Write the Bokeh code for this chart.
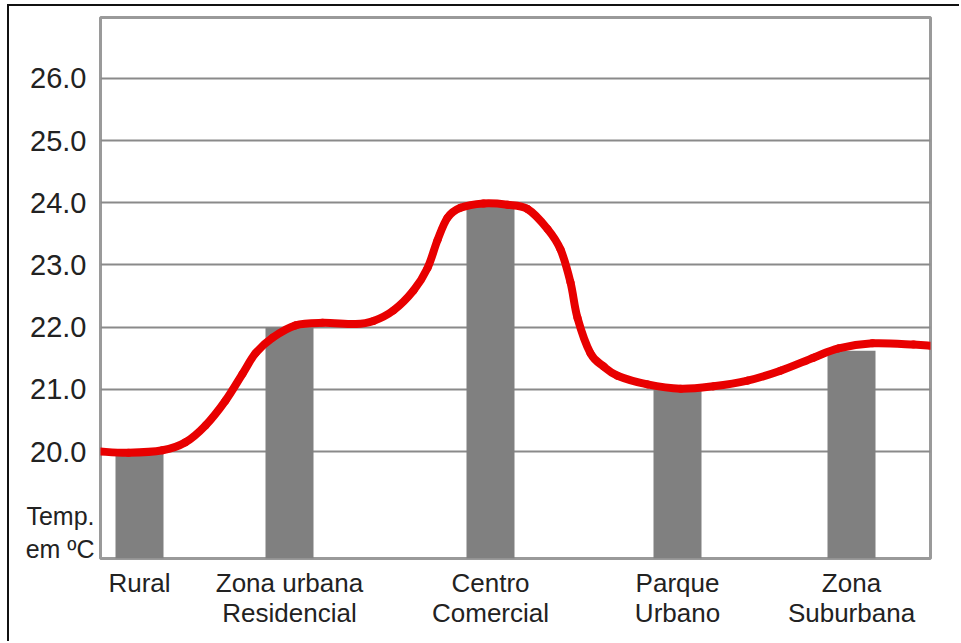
from bokeh.plotting import figure
from bokeh.models import Range1d, FixedTicker, LinearAxis
from bokeh.embed import file_html
from bokeh.resources import INLINE

# Zones along the transect and their position across the chart (px-like units)
zones = ["Rural", "Zona urbana\nResidencial", "Centro\nComercial", "Parque\nUrbano", "Zona\nSuburbana"]
zone_pos = [39, 189, 390, 577, 751]
zone_temp = [20.0, 22.0, 24.0, 21.0, 21.62]

# Temperature profile traced across the zones
profile_x = [0, 28, 62, 85, 105, 125, 142, 155, 172, 195, 222, 255, 273, 293, 313,
             327, 337, 347, 360, 383, 407, 427, 447, 460, 470, 477, 490, 503, 517,
             547, 580, 613, 647, 680, 713, 738, 772, 813, 830]
profile_t = [20.00, 19.98, 20.02, 20.15, 20.42, 20.82, 21.25, 21.58, 21.83, 22.03, 22.07,
             22.05, 22.10, 22.27, 22.59, 22.95, 23.40, 23.76, 23.92, 23.99, 23.97, 23.90,
             23.58, 23.25, 22.72, 22.15, 21.58, 21.37, 21.22, 21.08, 21.01, 21.05, 21.14,
             21.30, 21.51, 21.66, 21.74, 21.72, 21.70]

y_ticks = [20, 21, 22, 23, 24, 25, 26]
y_lo, y_hi = 18.28, 26.98
unit_caption = "Temp.\nem ºC"
caption_at = 18.70


def smooth_path(xs, ys):
    """Cubic Bezier segments (Catmull-Rom tangents) through the traced points."""
    n = len(xs)
    seg = {"x0": [], "y0": [], "x1": [], "y1": [], "cx0": [], "cy0": [], "cx1": [], "cy1": []}
    for i in range(n - 1):
        xa, ya = xs[max(i - 1, 0)], ys[max(i - 1, 0)]
        xb, yb = xs[i], ys[i]
        xc, yc = xs[i + 1], ys[i + 1]
        xd, yd = xs[min(i + 2, n - 1)], ys[min(i + 2, n - 1)]
        seg["x0"].append(xb); seg["y0"].append(yb)
        seg["x1"].append(xc); seg["y1"].append(yc)
        seg["cx0"].append(xb + (xc - xa) / 6); seg["cy0"].append(yb + (yc - ya) / 6)
        seg["cx1"].append(xc - (xd - xb) / 6); seg["cy1"].append(yc - (yd - yb) / 6)
    return seg


p = figure(width=952, height=637, x_range=Range1d(0, 830), y_range=Range1d(y_lo, y_hi),
           output_backend="svg", toolbar_location=None,
           min_border_left=91, min_border_right=31, min_border_top=11, min_border_bottom=85)
p.styles = {"border-top": "2px solid #111", "border-left": "2px solid #111",
            "margin-left": "7px", "margin-top": "4px"}

p.background_fill_color = "white"
p.border_fill_color = "white"
p.outline_line_color = "#9a9a9a"
p.outline_line_width = 3

# grid
p.xgrid.grid_line_color = None
p.ygrid.grid_line_color = "#8a8a8a"
p.ygrid.grid_line_width = 2

# y axis
p.yaxis.ticker = FixedTicker(ticks=y_ticks)
p.yaxis.major_label_overrides = {t: f"{t:.1f}" for t in y_ticks}
p.yaxis.axis_line_color = None
p.yaxis.major_tick_line_color = None
p.yaxis.minor_tick_line_color = None
p.yaxis.major_label_standoff = 8
p.yaxis.major_label_text_font = "Liberation Sans"
p.yaxis.major_label_text_font_size = "29px"
p.yaxis.major_label_text_color = "#222222"

# unit caption, set as a second left axis pulled in under the temperature labels
cap_axis = LinearAxis(ticker=FixedTicker(ticks=[caption_at]),
                      major_label_overrides={caption_at: unit_caption})
cap_axis.axis_line_color = None
cap_axis.major_tick_line_color = None
cap_axis.minor_tick_line_color = None
cap_axis.major_label_standoff = -73
cap_axis.major_label_text_font = "Liberation Sans"
cap_axis.major_label_text_font_size = "25px"
cap_axis.major_label_text_line_height = 1.2
cap_axis.major_label_text_color = "#222222"
p.add_layout(cap_axis, "left")

# x axis with zone names
p.xaxis.ticker = FixedTicker(ticks=zone_pos)
p.xaxis.major_label_overrides = {pos: name for pos, name in zip(zone_pos, zones)}
p.xaxis.axis_line_color = None
p.xaxis.major_tick_line_color = None
p.xaxis.minor_tick_line_color = None
p.xaxis.major_label_standoff = 3
p.xaxis.major_label_text_font = "Liberation Sans"
p.xaxis.major_label_text_font_size = "26px"
p.xaxis.major_label_text_line_height = 1.0
p.xaxis.major_label_text_color = "#222222"

# bars
p.vbar(x=zone_pos, top=zone_temp, bottom=y_lo, width=48,
       fill_color="#808080", line_color=None)

# temperature profile, drawn as a smooth curve through the traced points
seg = smooth_path(profile_x, profile_t)
p.bezier(x0=seg["x0"], y0=seg["y0"], x1=seg["x1"], y1=seg["y1"],
         cx0=seg["cx0"], cy0=seg["cy0"], cx1=seg["cx1"], cy1=seg["cy1"],
         line_color="#e80000", line_width=8, line_cap="round")

open("out.html", "w").write(file_html(p, INLINE))
